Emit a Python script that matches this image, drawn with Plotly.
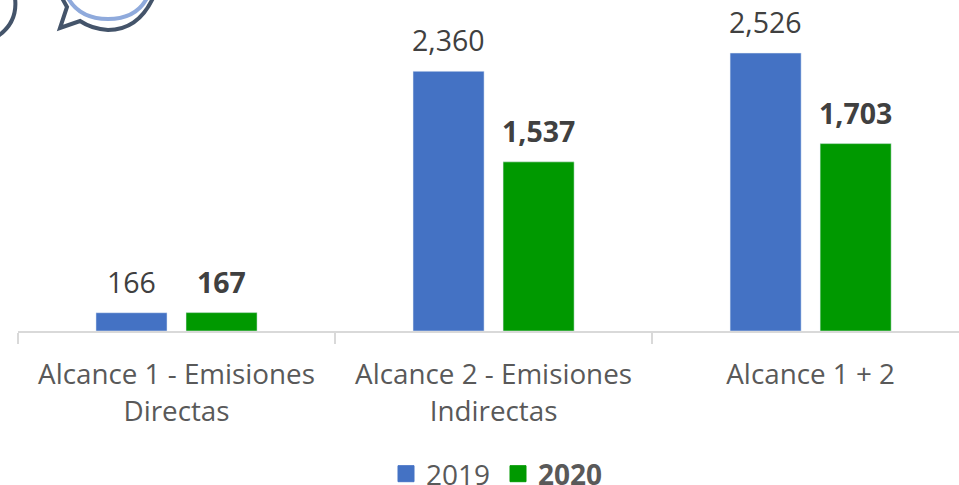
import plotly.graph_objects as go

categories = ["Alcance 1 - Emisiones<br>Directas", "Alcance 2 - Emisiones<br>Indirectas", "Alcance 1 + 2"]
values_2019 = [166, 2360, 2526]
values_2020 = [167, 1537, 1703]
labels_2019 = ["166", "2,360", "2,526"]
labels_2020 = ["<b>167</b>", "<b>1,537</b>", "<b>1,703</b>"]

W, H = 959, 485
L, T, B = 18, 0, 331
FONT = "Open Sans"
BLUE, GREEN = "#4472C4", "#009900"


def px(x):
    return (x - L) / (W - L)


def py(y):
    return (B - y) / (B - T)


fig = go.Figure()
fig.add_bar(name="2019", x=categories, y=values_2019, marker_color=BLUE, showlegend=False)
fig.add_bar(name="2020", x=categories, y=values_2020, marker_color=GREEN, showlegend=False)
for name, col in (("2019", BLUE), ("<b>2020</b>", GREEN)):
    fig.add_scatter(name=name, x=[None], y=[None], mode="markers",
                    marker=dict(symbol="square", size=16, color=col, line=dict(color=col, width=1)))

annotations = []
for cat, a, b, la, lb in zip(categories, values_2019, values_2020, labels_2019, labels_2020):
    for v, t, dx in ((a, la, -45), (b, lb, 45)):
        annotations.append(dict(x=cat, y=v, xref="x", yref="y", text=t, showarrow=False,
                                xshift=dx, yshift=10, yanchor="bottom", xanchor="center",
                                font=dict(size=28.5, color="#404040", family=FONT)))

dark = "#44546A"
light = "#8FAADC"
shapes = [
    dict(type="path", xref="paper", yref="paper", layer="above",
         path=f"M {px(68)} {py(-2)} Q {px(80)} {py(19)} {px(108)} {py(19)} Q {px(136)} {py(19)} {px(147)} {py(-2)}",
         line=dict(color=light, width=4)),
    dict(type="path", xref="paper", yref="paper", layer="above",
         path=f"M {px(153)} {py(-2)} Q {px(138)} {py(30)} {px(108)} {py(30)} Q {px(92)} {py(29)} {px(80)} {py(21)} "
              f"L {px(60)} {py(28)} L {px(67)} {py(7)} L {px(62)} {py(-2)}",
         line=dict(color=dark, width=4)),
    dict(type="path", xref="paper", yref="paper", layer="above",
         path=f"M {px(15)} {py(-2)} Q {px(18)} {py(22)} {px(-2)} {py(36)}",
         line=dict(color=dark, width=4)),
]

fig.update_layout(
    width=W, height=H,
    margin=dict(l=L, r=0, t=T, b=H - B, autoexpand=False),
    paper_bgcolor="white", plot_bgcolor="white",
    barmode="group", bargap=0.432, bargroupgap=0.211,
    font=dict(family=FONT, color="#595959", size=28),
    xaxis=dict(range=[-0.5, 2.468], tickson="boundaries", ticks="outside", ticklen=11,
               tickwidth=2, tickcolor="#D9D9D9", showline=True, linecolor="#D9D9D9",
               linewidth=2, showgrid=False, ticklabelstandoff=18,
               tickfont=dict(size=27.8, color="#595959", family=FONT)),
    yaxis=dict(range=[0, 3008], visible=False),
    legend=dict(orientation="h", x=px(498), xanchor="center", y=py(474), yanchor="middle",
                entrywidth=67, entrywidthmode="pixels",
                font=dict(size=28, color="#595959", family=FONT), itemclick=False),
    shapes=shapes,
    annotations=annotations,
)
fig.write_html("out.html", config={"displayModeBar": False},
               post_script="document.body.style.margin='0';document.documentElement.style.overflow='hidden';")
